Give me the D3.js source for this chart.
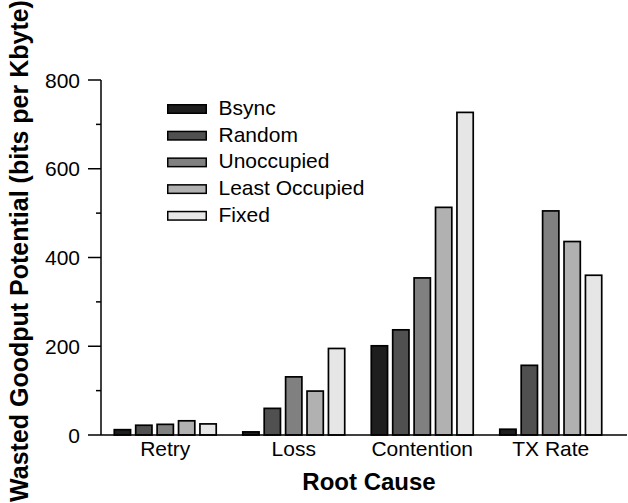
<!DOCTYPE html>
<html>
<head>
<meta charset="utf-8">
<script src="https://cdn.jsdelivr.net/npm/d3@7"></script>
<style>
    body {margin: 0; background: #fff;}
    svg text {font-family: "Liberation Sans", Arial, sans-serif; fill: #000;}
</style>
</head>
<body>
<svg id="chart" width="628" height="503"></svg>
<script>
const categories = ['Retry', 'Loss', 'Contention', 'TX Rate'];
const seriesNames = ['Bsync', 'Random', 'Unoccupied', 'Least Occupied', 'Fixed'];
const bsync = [12, 7, 201, 13];
const random = [22, 60, 237, 157];
const unoccupied = [24, 131, 354, 505];
const leastOccupied = [32, 99, 513, 436];
const fixed = [25, 195, 727, 360];
const yMajorTicks = [0, 200, 400, 600, 800];
const yMinorTicks = [100, 300, 500, 700];
const seriesColors = ['#1e1e1e', '#505050', '#808080', '#b1b1b1', '#e6e6e6'];

const seriesValues = [bsync, random, unoccupied, leastOccupied, fixed];
const data = categories.map((c, i) => ({
    category: c,
    values: seriesNames.map((s, j) => ({series: s, value: seriesValues[j][i]}))
}));

const svg = d3.select('#chart');
const axisX = 101, axisY = 435;

const x0 = d3.scaleBand().domain(categories).range([101, 615]);
const x1 = d3.scaleBand().domain(seriesNames)
    .range([0, x0.bandwidth()])
    .paddingInner(0.24)
    .paddingOuter(0.62);
const y = d3.scaleLinear().domain([0, 800]).range([axisY, 80]);
const color = d3.scaleOrdinal().domain(seriesNames).range(seriesColors);

// bars
svg.append('g').selectAll('g.group')
    .data(data)
    .join('g')
    .attr('class', 'group')
    .attr('transform', d => `translate(${x0(d.category)},0)`)
    .selectAll('rect')
    .data(d => d.values)
    .join('rect')
    .attr('x', d => x1(d.series))
    .attr('width', x1.bandwidth())
    .attr('y', d => y(d.value))
    .attr('height', d => axisY - y(d.value))
    .attr('fill', d => color(d.series))
    .attr('stroke', '#000')
    .attr('stroke-width', 1.7);

// y axis
const gy = svg.append('g');
gy.append('line')
    .attr('x1', axisX).attr('x2', axisX)
    .attr('y1', y(800)).attr('y2', axisY)
    .attr('stroke', '#000').attr('stroke-width', 1.5);
gy.selectAll('line.major').data(yMajorTicks)
    .join('line')
    .attr('class', 'major')
    .attr('x1', axisX - 13).attr('x2', axisX)
    .attr('y1', d => y(d)).attr('y2', d => y(d))
    .attr('stroke', '#000').attr('stroke-width', 1.5);
gy.selectAll('line.minor').data(yMinorTicks)
    .join('line')
    .attr('class', 'minor')
    .attr('x1', axisX - 5).attr('x2', axisX)
    .attr('y1', d => y(d)).attr('y2', d => y(d))
    .attr('stroke', '#000').attr('stroke-width', 1.5);
gy.selectAll('text').data(yMajorTicks)
    .join('text')
    .attr('x', axisX - 21)
    .attr('y', d => y(d))
    .attr('dy', '0.36em')
    .attr('text-anchor', 'end')
    .style('font-size', '21px')
    .text(d => d);

// x axis
const gx = svg.append('g');
gx.append('line')
    .attr('x1', axisX).attr('x2', 627)
    .attr('y1', axisY).attr('y2', axisY)
    .attr('stroke', '#000').attr('stroke-width', 1.5);
gx.selectAll('text').data(categories)
    .join('text')
    .attr('x', d => x0(d) + x0.bandwidth() / 2)
    .attr('y', 456)
    .attr('text-anchor', 'middle')
    .style('font-size', '21px')
    .text(d => d);

// axis titles
svg.append('text')
    .attr('x', 369).attr('y', 490)
    .attr('text-anchor', 'middle')
    .style('font-size', '24px')
    .style('font-weight', 'bold')
    .text('Root Cause');
svg.append('text')
    .attr('transform', 'translate(28,251) rotate(-90)')
    .attr('text-anchor', 'middle')
    .style('font-size', '25px')
    .style('font-weight', 'bold')
    .text('Wasted Goodput Potential (bits per Kbyte)');

// legend
const legend = svg.append('g').attr('transform', 'translate(167,109)');
const rows = legend.selectAll('g').data(seriesNames)
    .join('g')
    .attr('transform', (d, i) => `translate(0,${i * 26.7})`);
rows.append('rect')
    .attr('x', 0.75).attr('y', -4.25)
    .attr('width', 38.5).attr('height', 8.5)
    .attr('fill', d => color(d))
    .attr('stroke', '#000').attr('stroke-width', 1.5);
rows.append('text')
    .attr('x', 51.5).attr('y', 6)
    .style('font-size', '21px')
    .text(d => d);
</script>
</body>
</html>
